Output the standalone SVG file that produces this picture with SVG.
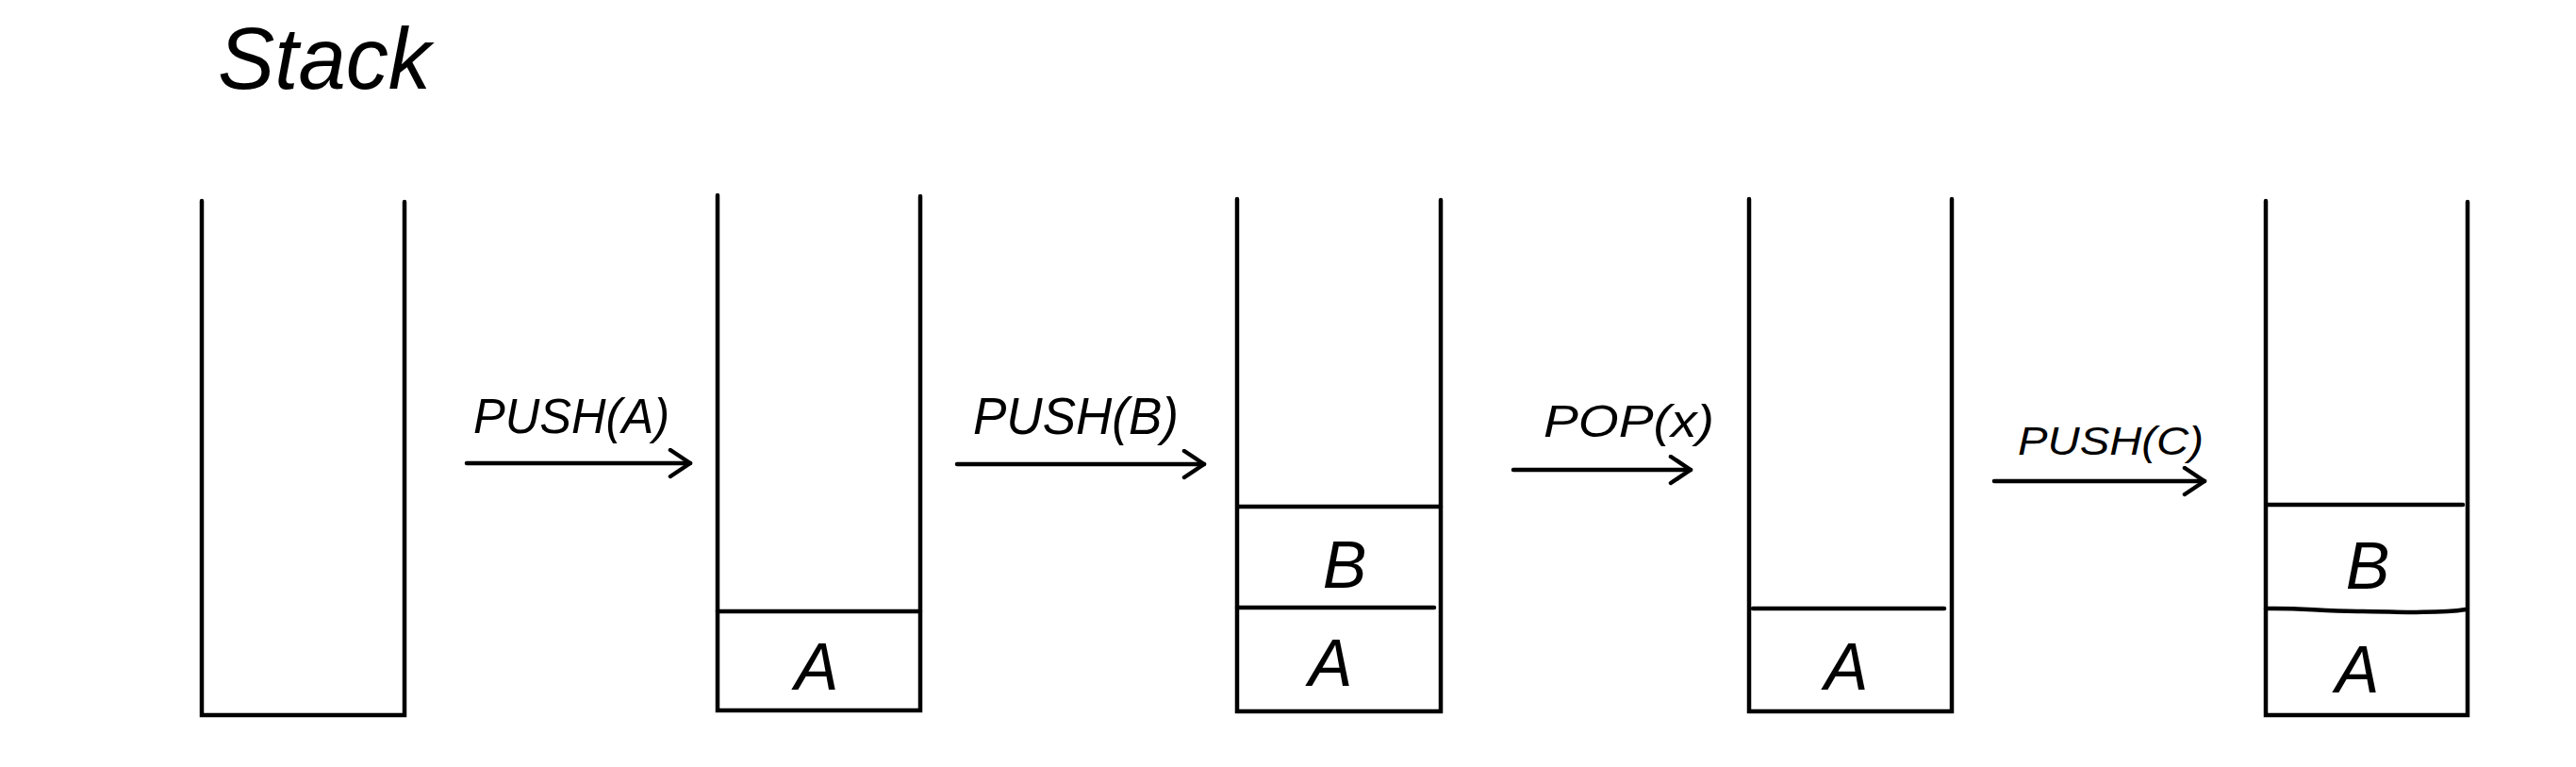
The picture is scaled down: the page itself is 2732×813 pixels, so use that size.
<svg xmlns="http://www.w3.org/2000/svg" width="2732" height="813" viewBox="0 0 2732 813">
<style>
.ln{stroke:#000;stroke-width:4.5;stroke-linecap:round;fill:none}
.lbl{font-family:"Liberation Sans",Arial,sans-serif;font-style:italic;fill:#000}
.cell{font-family:"Liberation Sans",Arial,sans-serif;font-style:italic;font-size:70px;fill:#000;text-anchor:middle}
</style>
<defs>
<marker id="arr" markerUnits="userSpaceOnUse" markerWidth="30" markerHeight="34" refX="24" refY="16" orient="auto">
<path d="M3,2 L24,16 L3,30" fill="none" stroke="#000" stroke-width="4.5" stroke-linecap="round" stroke-linejoin="round"/>
</marker>
</defs>
<rect width="2732" height="813" fill="#fff"/>
<text class="lbl" x="231" y="94" font-size="92" textLength="226" lengthAdjust="spacingAndGlyphs">Stack</text>

<g id="stack1">
<path class="ln" d="M214,213 V758 H429 V214"/>
</g>
<g id="stack2">
<path class="ln" d="M761,207 V753 H976 V208"/>
<line class="ln" x1="761" y1="648" x2="976" y2="648"/>
<text class="cell" x="866" y="731">A</text>
</g>
<g id="stack3">
<path class="ln" d="M1312,211 V754 H1528 V212"/>
<line class="ln" x1="1314" y1="537" x2="1528" y2="537"/>
<line class="ln" x1="1312" y1="644" x2="1521" y2="644"/>
<text class="cell" x="1426" y="623">B</text>
<text class="cell" x="1411" y="727">A</text>
</g>
<g id="stack4">
<path class="ln" d="M1855,211 V754 H2070 V211"/>
<line class="ln" x1="1859" y1="645" x2="2062" y2="645"/>
<text class="cell" x="1958" y="731">A</text>
</g>
<g id="stack5">
<path class="ln" d="M2403,213 V758 H2617 V214"/>
<line class="ln" x1="2405" y1="535" x2="2612" y2="535"/>
<path class="ln" d="M2403,645 C2440,644 2460,648 2500,648 C2550,649 2590,650 2615,646"/>
<text class="cell" x="2511" y="624">B</text>
<text class="cell" x="2500" y="734">A</text>
</g>

<g id="connectors">
<line class="ln" x1="495" y1="491" x2="732" y2="491" marker-end="url(#arr)"/>
<line class="ln" x1="1015" y1="492" x2="1277" y2="492" marker-end="url(#arr)"/>
<line class="ln" x1="1605" y1="498" x2="1793" y2="498" marker-end="url(#arr)"/>
<line class="ln" x1="2115" y1="510" x2="2338" y2="510" marker-end="url(#arr)"/>
<text class="lbl" x="502" y="459" font-size="52" textLength="208" lengthAdjust="spacingAndGlyphs">PUSH(A)</text>
<text class="lbl" x="1032" y="460" font-size="55" textLength="218" lengthAdjust="spacingAndGlyphs">PUSH(B)</text>
<text class="lbl" x="1637" y="463" font-size="48" textLength="181" lengthAdjust="spacingAndGlyphs">POP(x)</text>
<text class="lbl" x="2140" y="482" font-size="43" textLength="197" lengthAdjust="spacingAndGlyphs">PUSH(C)</text>
</g>
</svg>
